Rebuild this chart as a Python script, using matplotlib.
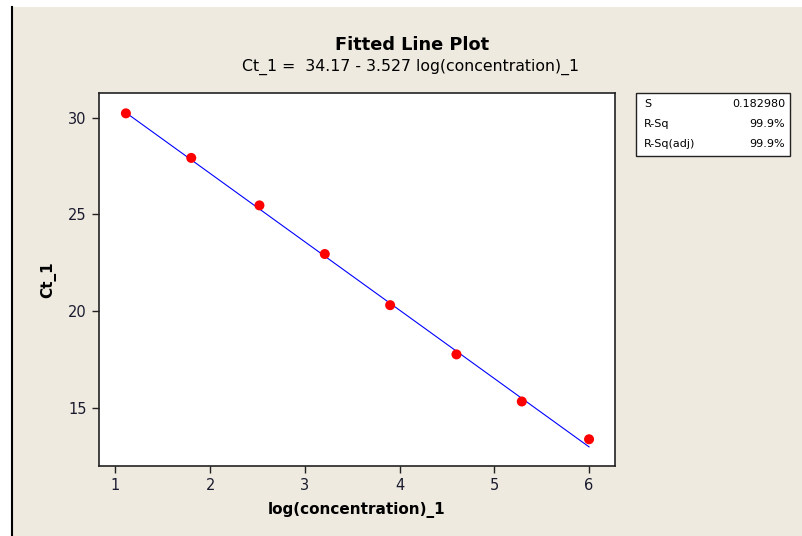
import matplotlib
matplotlib.use("Agg")
import matplotlib.pyplot as plt
import numpy as np
from matplotlib.patches import Rectangle
from matplotlib.lines import Line2D

# Data
log_conc = [1.11, 1.80, 2.52, 3.21, 3.90, 4.60, 5.29, 6.00]
ct_1 = [30.22, 27.92, 25.47, 22.96, 20.32, 17.78, 15.35, 13.40]
intercept = 34.17
slope = -3.527
stats_labels = ["S", "R-Sq", "R-Sq(adj)"]
stats_values = ["0.182980", "99.9%", "99.9%"]
xticks = [1, 2, 3, 4, 5, 6]
yticks = [15, 20, 25, 30]

W, H = 803, 536
fig = plt.figure(figsize=(W / 100, H / 100), dpi=100, facecolor="white")
plt.rcParams['font.family'] = ['DejaVu Sans']

beige = "#eeeae0"
fig.add_artist(Rectangle((13 / W, 0), 1 - 13 / W, 1 - 7 / H, transform=fig.transFigure,
                         facecolor=beige, edgecolor="none", zorder=0))
fig.add_artist(Line2D([12.5 / W, 12.5 / W], [0, 1 - 7 / H], transform=fig.transFigure,
                      color="black", linewidth=1.5, zorder=1))

left, right, top, bottom = 99, 615, 93, 466
ax = fig.add_axes([left / W, 1 - bottom / H, (right - left) / W, (bottom - top) / H])
ax.set_facecolor("white")
ax.set_zorder(2)

xs = np.array([min(log_conc), max(log_conc)])
ax.plot(xs, intercept + slope * xs, color="blue", linewidth=0.8, zorder=2)
ax.scatter(log_conc, ct_1, color="red", s=52, zorder=3, edgecolors="none")

ax.set_xlim(0.826, 6.274)
ax.set_ylim(12.02, 31.27)
ax.set_xticks(xticks)
ax.set_yticks(yticks)
for s in ax.spines.values():
    s.set_linewidth(1.2)
    s.set_color("#222222")
ax.tick_params(direction="out", length=5, width=1, labelsize=10.5, colors="#222222",
               labelcolor="#1a1a2e", pad=4)

ax.set_xlabel("log(concentration)_1", fontsize=11, fontweight="bold", labelpad=6)
ax.set_ylabel("Ct_1", fontsize=11, fontweight="bold", labelpad=8)

fig.text((333 + 492) / 2 / W, 1 - 45 / H, "Fitted Line Plot", ha="center", va="center",
         fontsize=12.8, fontweight="bold")
fig.text((239 + 583) / 2 / W, 1 - 67 / H, "Ct_1 =  34.17 - 3.527 log(concentration)_1",
         ha="center", va="center", fontsize=11.3)

# stats box
bx0, bx1, by0, by1 = 636, 790, 93, 156
fig.add_artist(Rectangle((bx0 / W, 1 - by1 / H), (bx1 - bx0) / W, (by1 - by0) / H,
                         transform=fig.transFigure, facecolor="white", edgecolor="#222222",
                         linewidth=1.0, zorder=3))
row_y = [104, 124, 144]
for lab, val, yy in zip(stats_labels, stats_values, row_y):
    fig.text(644 / W, 1 - yy / H, lab, ha="left", va="center", fontsize=8, zorder=4)
    fig.text(785 / W, 1 - yy / H, val, ha="right", va="center", fontsize=8, zorder=4)

fig.savefig("out.png", dpi=100, facecolor=fig.get_facecolor())
